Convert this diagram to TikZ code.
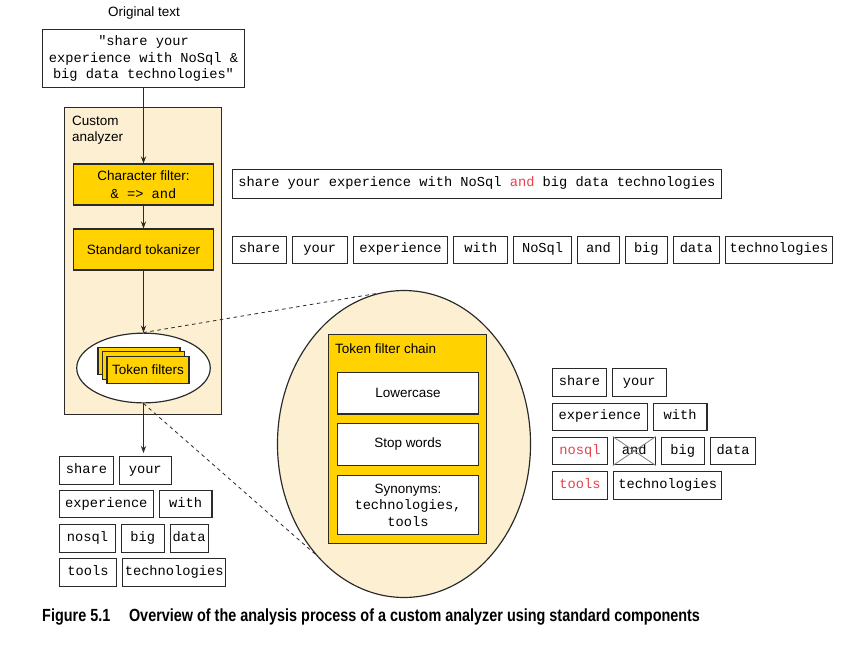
\documentclass[tikz,border=0pt]{standalone}
\usepackage{fontspec}
\setmainfont{Liberation Sans}
\setmonofont{Liberation Mono}
\usepackage{graphicx}
\usetikzlibrary{positioning,shapes.geometric,arrows.meta}
\definecolor{beige}{HTML}{FDEFD2}
\definecolor{gold}{HTML}{FFD200}
\definecolor{linegray}{HTML}{2A2A2A}
\definecolor{hlred}{HTML}{E8404A}
\newcommand{\mono}{\fontsize{11.7}{14.2}\selectfont\ttfamily}
\newcommand{\sans}{\fontsize{11.5}{14}\selectfont\rmfamily}
\begin{document}
\begin{tikzpicture}[x=0.03cm, y=-0.03cm, >={Stealth[length=6pt,width=4.5pt]}, font=\sans,
    word/.style ={draw=linegray, line width=0.9pt, font=\mono, minimum height=23.8pt, inner xsep=2pt, inner ysep=1pt, text height=7.5pt, text depth=2.4pt},
    wd/.style ={minimum width=#1*0.8504pt},
    filterbox/.style ={draw=linegray, line width=1pt, fill=gold, minimum width=119pt, minimum height=35pt, align=center},
    whitebox/.style ={draw=linegray, line width=1pt, fill=white, minimum width=120pt, align=center},
    arr/.style ={draw=linegray, line width=0.9pt, ->},
    zoomline/.style ={draw=linegray, line width=0.7pt, dashed}]
  \useasboundingbox (0,0) rectangle (849,661);
  % left column
  \node (origlabel) at (144,13) {Original text};
  \node[draw=linegray, line width=1pt, fill=white, font=\mono, align=center, minimum width=171.8pt, minimum height=50pt] (orig) at (143.5,58.5) {"share your\\experience with NoSql \&\\big data technologies"};
  \node[draw=linegray, line width=1pt, fill=beige, minimum width=134.4pt, minimum height=262pt] (analyzer) at (143,261) {};
  \node[anchor=north west, align=left, inner sep=0pt] (anlabel) at (72,115.5) {Custom\\analyzer};
  \node[filterbox] (cfilter) at (143.5,184.5) {Character filter:\\[1pt]{\mono \& => and}};
  \node[filterbox] (tokenizer) at (143.5,249.5) {Standard tokanizer};
  \node[draw=linegray, line width=1pt, fill=white, ellipse, minimum width=114pt, minimum height=59.5pt] (tfilters) at (143.5,368) {};
  \node[draw=linegray, line width=0.9pt, fill=gold, minimum width=70pt, minimum height=23.8pt] (tfc) at (139,361) {};
  \node[draw=linegray, line width=0.9pt, fill=gold, minimum width=70pt, minimum height=23.8pt] (tfb) at (143.5,365.5) {};
  \node[draw=linegray, line width=0.9pt, fill=gold, minimum width=70pt, minimum height=23.8pt] (tfa) at (148,370) {Token filters};
  \coordinate (lout) at (143.5,453);
  \draw[arr] (orig) -- (cfilter);
  \draw[arr] (cfilter) -- (tokenizer);
  \draw[arr] (tokenizer.south) -- (tfilters.north);
  \draw[arr] (tfilters.south) -- (lout);

  % zoomed token filter chain
  \node[draw=linegray, line width=1pt, fill=beige, ellipse, minimum width=216pt, minimum height=262pt] (zoom) at (404,444) {};
  \draw[zoomline] (tfilters.north) -- (zoom.100);
  \draw[zoomline] (tfilters.south) -- (zoom.231);
  \node[draw=linegray, line width=1pt, fill=gold, minimum width=135pt, minimum height=178.5pt] (chain) at (407.5,439) {};
  \node[anchor=west] (chainlabel) at (331,349) {Token filter chain};
  \node[whitebox, minimum height=35.7pt] (lower) at (408,393) {Lowercase};
  \node[whitebox, minimum height=36.5pt] (stop) at (408,444.5) {Stop words};
  \node[whitebox, minimum height=51pt] (syn) at (408,505) {Synonyms:\\[0pt]{\mono technologies,}\\[0pt]{\mono tools}};

  % character filter output
  \node[word, anchor=west, inner xsep=5pt, minimum height=24.7pt] (cfout) at (232,184) {share your experience with NoSql \textcolor{hlred}{and} big data technologies};

  % tokenizer output
  \node[word, wd=54, anchor=west] (t1) at (232,250) {share};
  \node[word, wd=55, right=4.25pt of t1] (t2) {your};
  \node[word, wd=95, right=4.25pt of t2] (t3) {experience};
  \node[word, wd=54, right=4.25pt of t3] (t4) {with};
  \node[word, wd=58, right=4.25pt of t4] (t5) {NoSql};
  \node[word, wd=42, right=4.25pt of t5] (t6) {and};
  \node[word, wd=42, right=4.25pt of t6] (t7) {big};
  \node[word, wd=46, right=4.25pt of t7] (t8) {data};
  \node[word, wd=108, right=4.25pt of t8] (t9) {technologies};

  % token filter output
  \node[word, wd=54, anchor=west] (r1) at (552,382.5) {share};
  \node[word, wd=54, right=4.25pt of r1] (r2) {your};
  \node[word, wd=95, anchor=west] (r3) at (552,417) {experience};
  \node[word, wd=54, right=4.25pt of r3] (r4) {with};
  \node[word, wd=55, anchor=west, text=hlred] (r5) at (552,451) {nosql};
  \node[word, wd=42, right=4.25pt of r5] (r6) {and};
  \node[word, wd=43, right=4.25pt of r6] (r7) {big};
  \node[word, wd=46, right=4.25pt of r7] (r8) {data};
  \node[word, wd=55, anchor=west, text=hlred] (r9) at (552,485.5) {tools};
  \node[word, wd=109, right=4.25pt of r9] (r10) {technologies};
  \draw[gray, line width=0.7pt] (r6.north west) -- (r6.south east) (r6.south west) -- (r6.north east);

  % analyzer output
  \node[word, wd=54, anchor=west] (l1) at (59,470.5) {share};
  \node[word, wd=52, right=4.25pt of l1] (l2) {your};
  \node[word, wd=94, anchor=west] (l3) at (59,504) {experience};
  \node[word, wd=53, right=4.25pt of l3] (l4) {with};
  \node[word, wd=56, anchor=west] (l5) at (59,538.5) {nosql};
  \node[word, wd=43, right=4.25pt of l5] (l6) {big};
  \node[word, wd=38, right=4.25pt of l6] (l7) {data};
  \node[word, wd=57, anchor=west] (l8) at (59,572.5) {tools};
  \node[word, wd=104, right=4.25pt of l8] (l9) {technologies};

  % caption
  \node[anchor=west, inner sep=0pt] (caption) at (42,617) {\scalebox{0.82}[1]{\fontsize{15}{17}\selectfont\bfseries Figure 5.1\hspace{1.3em}Overview of the analysis process of a custom analyzer using standard components}};
\end{tikzpicture}
\end{document}
